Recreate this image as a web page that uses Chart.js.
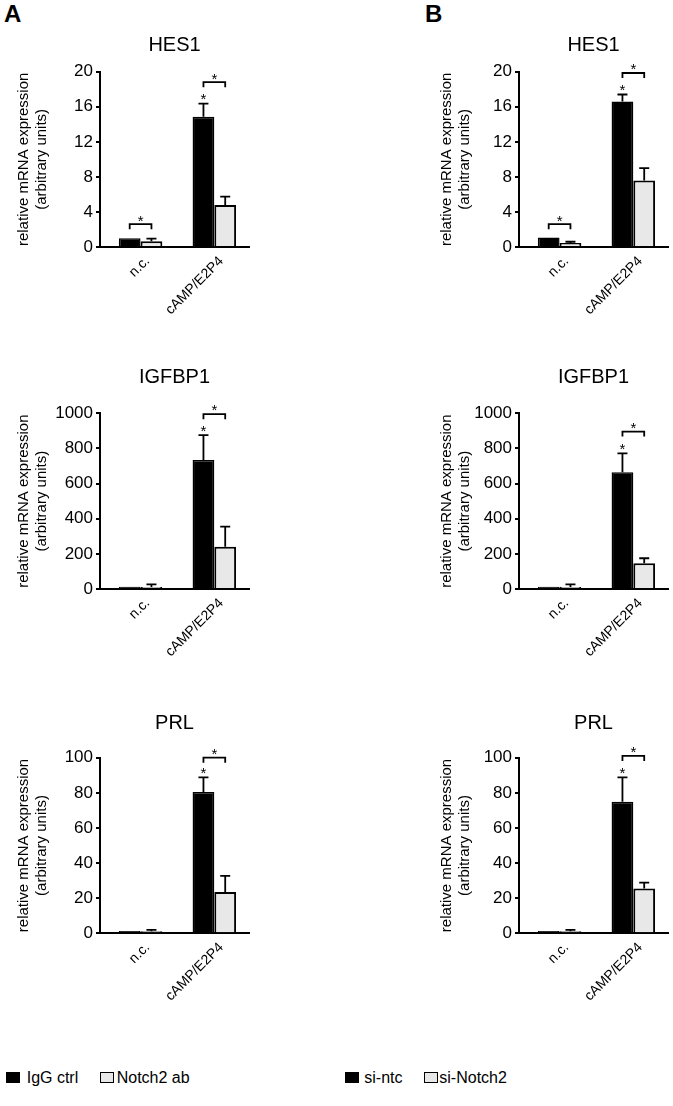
<!DOCTYPE html>
<html><head><meta charset="utf-8">
<script src="https://cdn.jsdelivr.net/npm/chart.js@4.4.1/dist/chart.umd.min.js"></script>
<style>
html,body{margin:0;padding:0;background:#fff;}
body{width:673px;height:1106px;position:relative;overflow:hidden;font-family:"Liberation Sans",Arial,sans-serif;color:#000;}
canvas{position:absolute;}
.letter{position:absolute;font-weight:bold;font-size:24px;line-height:24px;}
.sw{position:absolute;top:1071.7px;width:14px;height:11.6px;box-sizing:border-box;border:1.5px solid #000;}
.lt{position:absolute;top:1069.7px;font-size:16px;line-height:16px;white-space:nowrap;}
</style></head><body>
<div class="letter" style="left:4px;top:2px">A</div>
<div class="letter" style="left:425px;top:2px">B</div>

<canvas id="c0"></canvas><canvas id="c1"></canvas><canvas id="c2"></canvas>
<canvas id="c3"></canvas><canvas id="c4"></canvas><canvas id="c5"></canvas>

<div class="sw" style="left:6px;background:#000"></div><div class="lt" style="left:26.7px" id="lA0"></div>
<div class="sw" style="left:100px;background:#e8e8e8"></div><div class="lt" style="left:116.7px" id="lA1"></div>
<div class="sw" style="left:345px;background:#000"></div><div class="lt" style="left:364.3px" id="lB0"></div>
<div class="sw" style="left:424px;background:#e8e8e8"></div><div class="lt" style="left:439.3px" id="lB1"></div>

<script>
// ---------------- DATA ----------------
const categories = ['n.c.', 'cAMP/E2P4'];
const seriesA = ['IgG ctrl', 'Notch2 ab'];
const seriesB = ['si-ntc', 'si-Notch2'];
const genes = ['HES1', 'IGFBP1', 'PRL'];
const yMaxes = [20, 1000, 100];
const ySteps = [4, 200, 20];
const yTitle = ['relative mRNA expression', '(arbitrary units)'];
const ctrlStar = [false, true];

// Panel A (IgG ctrl / Notch2 ab)
const hes1_A_ctrl = [1.0, 14.85];
const hes1_A_ctrlErr = [0, 1.5];
const hes1_A_ab = [0.65, 4.8];
const hes1_A_abErr = [0.3, 0.95];
const hes1_A_bracket = [2.6, 18.8];

const igfbp1_A_ctrl = [13, 734];
const igfbp1_A_ctrlErr = [0, 142];
const igfbp1_A_ab = [12, 241];
const igfbp1_A_abErr = [14, 114];
const igfbp1_A_bracket = [null, 995];

const prl_A_ctrl = [1.3, 80.5];
const prl_A_ctrlErr = [0, 8.3];
const prl_A_ab = [1.2, 23.5];
const prl_A_abErr = [0.7, 9.2];
const prl_A_bracket = [null, 100];

// Panel B (si-ntc / si-Notch2)
const hes1_B_ntc = [1.08, 16.6];
const hes1_B_ntcErr = [0, 0.8];
const hes1_B_si = [0.45, 7.6];
const hes1_B_siErr = [0.15, 1.4];
const hes1_B_bracket = [2.6, 19.85];

const igfbp1_B_ntc = [13, 664];
const igfbp1_B_ntcErr = [0, 108];
const igfbp1_B_si = [12, 146];
const igfbp1_B_siErr = [14, 29];
const igfbp1_B_bracket = [null, 896];

const prl_B_ntc = [1.3, 74.9];
const prl_B_ntcErr = [0, 13.9];
const prl_B_si = [1.2, 25.5];
const prl_B_siErr = [0.7, 3.4];
const prl_B_bracket = [null, 101];

// ---------------- LAYOUT / STYLE ----------------
const FONT = "'Liberation Sans', Arial, sans-serif";
Chart.defaults.font.family = FONT;
Chart.defaults.color = '#000';

document.getElementById('lA0').textContent = seriesA[0];
document.getElementById('lA1').textContent = seriesA[1];
document.getElementById('lB0').textContent = seriesB[0];
document.getElementById('lB1').textContent = seriesB[1];

const cols = [
  {left: 0, width: 336, padL: 15, axisX: 100, plotR: 249},
  {left: 336, width: 337, padL: 101.5, axisX: 183, plotR: 332}
];
const rows = [
  {top: 0, h: 330, titleY: 45, areaTop: 71.7, zero: 247},
  {top: 341, h: 330, titleY: 36, areaTop: 72.3, zero: 248},
  {top: 685, h: 330, titleY: 38.3, areaTop: 72.7, zero: 248.3}
];
const X_MIN = -0.55, X_MAX = 1.47;
const TITLE_SIZE = 20;

const annot = {
  id: 'annot',
  afterDatasetsDraw(chart, args, opts) {
    const ctx = chart.ctx, y = chart.scales.y;
    ctx.save();
    ctx.strokeStyle = '#000'; ctx.fillStyle = '#000'; ctx.lineWidth = 1.8;
    const star = (x, cy) => {
      ctx.font = '15px ' + FONT; ctx.textAlign = 'center'; ctx.textBaseline = 'alphabetic';
      ctx.fillText('*', x, cy + 8.8);
    };
    chart.data.datasets.forEach((ds, di) => {
      const meta = chart.getDatasetMeta(di);
      meta.data.forEach((bar, j) => {
        const e = ds.err[j];
        if (!e) return;
        const top = y.getPixelForValue(ds.data[j].y + e);
        ctx.beginPath();
        ctx.moveTo(bar.x, bar.y); ctx.lineTo(bar.x, top);
        ctx.moveTo(bar.x - 5, top); ctx.lineTo(bar.x + 5, top);
        ctx.stroke();
      });
    });
    const m0 = chart.getDatasetMeta(0), m1 = chart.getDatasetMeta(1);
    const ds0 = chart.data.datasets[0];
    opts.brackets.forEach((v, j) => {
      if (v == null) return;
      const x0 = m0.data[j].x, x1 = m1.data[j].x, py = y.getPixelForValue(v);
      ctx.beginPath();
      ctx.moveTo(x0, py + 5); ctx.lineTo(x0, py); ctx.lineTo(x1, py); ctx.lineTo(x1, py + 5);
      ctx.stroke();
      star((x0 + x1) / 2, py - 7.5);
    });
    opts.stars.forEach((s, j) => {
      if (!s) return;
      const top = y.getPixelForValue(ds0.data[j].y + (ds0.err[j] || 0));
      star(m0.data[j].x, top - 8);
    });
    ctx.restore();
  }
};

const panels = [
  {c: 0, r: 0, labels: seriesA, a: hes1_A_ctrl, ae: hes1_A_ctrlErr, b: hes1_A_ab, be: hes1_A_abErr, br: hes1_A_bracket},
  {c: 0, r: 1, labels: seriesA, a: igfbp1_A_ctrl, ae: igfbp1_A_ctrlErr, b: igfbp1_A_ab, be: igfbp1_A_abErr, br: igfbp1_A_bracket},
  {c: 0, r: 2, labels: seriesA, a: prl_A_ctrl, ae: prl_A_ctrlErr, b: prl_A_ab, be: prl_A_abErr, br: prl_A_bracket},
  {c: 1, r: 0, labels: seriesB, a: hes1_B_ntc, ae: hes1_B_ntcErr, b: hes1_B_si, be: hes1_B_siErr, br: hes1_B_bracket},
  {c: 1, r: 1, labels: seriesB, a: igfbp1_B_ntc, ae: igfbp1_B_ntcErr, b: igfbp1_B_si, be: igfbp1_B_siErr, br: igfbp1_B_bracket},
  {c: 1, r: 2, labels: seriesB, a: prl_B_ntc, ae: prl_B_ntcErr, b: prl_B_si, be: prl_B_siErr, br: prl_B_bracket}
];

panels.forEach((p, k) => {
  const col = cols[p.c], row = rows[p.r];
  const cv = document.getElementById('c' + k);
  cv.width = col.width; cv.height = row.h;
  cv.style.left = col.left + 'px'; cv.style.top = row.top + 'px';
  cv.style.width = col.width + 'px'; cv.style.height = row.h + 'px';
  const tLH = TITLE_SIZE * 1.2;
  const toPts = arr => arr.map((v, i) => ({x: i, y: v}));
  new Chart(cv, {
    type: 'bar',
    data: {
      datasets: [
        {label: p.labels[0], data: toPts(p.a), err: p.ae, backgroundColor: '#000', borderColor: '#000', borderWidth: 1.5,
         categoryPercentage: 0.59, barPercentage: 1.0},
        {label: p.labels[1], data: toPts(p.b), err: p.be, backgroundColor: '#e8e8e8', borderColor: '#000', borderWidth: 2,
         categoryPercentage: 0.59, barPercentage: 1.0}
      ]
    },
    plugins: [annot],
    options: {
      responsive: false, animation: false, devicePixelRatio: 1,
      layout: {padding: {left: col.padL, right: col.width - col.plotR, top: 0, bottom: 0}},
      plugins: {
        legend: {display: false},
        tooltip: {enabled: false},
        title: {display: true, text: genes[p.r], fullSize: false, color: '#000',
                font: {size: TITLE_SIZE, weight: 'normal', family: FONT},
                padding: {top: row.titleY - tLH / 2, bottom: row.areaTop - row.titleY - tLH / 2}},
        annot: {brackets: p.br, stars: ctrlStar}
      },
      scales: {
        x: {
          type: 'linear', min: X_MIN, max: X_MAX, offset: false,
          grid: {display: false, drawTicks: false, offset: false},
          border: {display: true, color: '#000', width: 2},
          afterBuildTicks: s => { s.ticks = categories.map((c, i) => ({value: i})); },
          ticks: {autoSkip: false, minRotation: 45, maxRotation: 45, color: '#000',
                  font: {size: 14, family: FONT}, padding: 6, labelOffset: 7,
                  callback: v => (categories[v] !== undefined ? categories[v] : '')},
          afterFit: s => { s.height = row.h - row.zero; }
        },
        y: {
          min: 0, max: yMaxes[p.r],
          ticks: {stepSize: ySteps[p.r], color: '#000', font: {size: 17, family: FONT}, padding: 3,
                  callback: v => String(v)},
          grid: {display: true, drawOnChartArea: false, drawTicks: true, tickLength: 4, color: '#000', lineWidth: 2},
          border: {display: true, color: '#000', width: 2},
          title: {display: true, text: yTitle, color: '#000', font: {size: 15, family: FONT}, padding: {top: 0, bottom: 0}},
          afterFit: s => { s.width = col.axisX - col.padL; }
        }
      }
    }
  });
});
</script>
</body></html>
